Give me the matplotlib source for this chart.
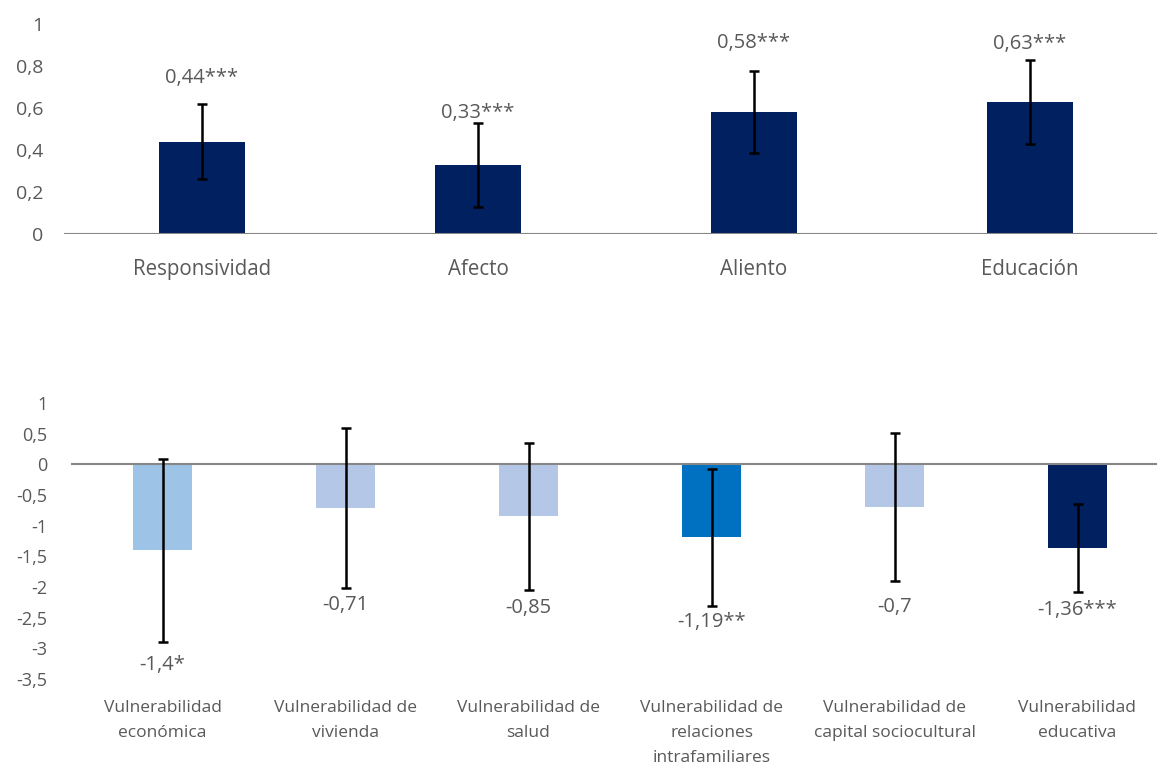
import numpy as np
import matplotlib
matplotlib.use("Agg")
from matplotlib import pyplot as plt

plt.rcParams["font.family"] = ["Open Sans", "DejaVu Sans"]

# datos - grafico superior
top_cats = ["Responsividad", "Afecto", "Aliento", "Educación"]
top_vals = [0.44, 0.33, 0.58, 0.63]
top_err = [0.18, 0.20, 0.195, 0.20]
top_labels = ["0,44***", "0,33***", "0,58***", "0,63***"]
top_label_y = [0.745, 0.575, 0.91, 0.905]

# datos - grafico inferior
bot_cats = ["Vulnerabilidad\neconómica", "Vulnerabilidad de\nvivienda",
            "Vulnerabilidad de\nsalud", "Vulnerabilidad de\nrelaciones\nintrafamiliares",
            "Vulnerabilidad de\ncapital sociocultural", "Vulnerabilidad\neducativa"]
bot_vals = [-1.40, -0.71, -0.85, -1.19, -0.70, -1.36]
bot_err = [1.49, 1.30, 1.20, 1.12, 1.21, 0.72]
bot_labels = ["-1,4*", "-0,71", "-0,85", "-1,19**", "-0,7", "-1,36***"]
bot_label_y = [-3.27, -2.30, -2.35, -2.57, -2.33, -2.38]
bot_colors = ["#9DC3E6", "#B4C7E7", "#B4C7E7", "#0070C0", "#B4C7E7", "#002060"]

txt = "#595959"
W, H = 1157, 767
fig = plt.figure(figsize=(W / 100, H / 100), dpi=100)

# grafico superior
ax1 = fig.add_axes([64 / W, 1 - 234 / H, 1104 / W, 210 / H])
x1 = np.arange(len(top_cats))
ax1.bar(x1, top_vals, width=0.315, color="#002060")
ax1.errorbar(x1, top_vals, yerr=top_err, fmt="none", ecolor="black",
             elinewidth=1.8, capsize=3.5, capthick=1.8)
for xi, lab, ly in zip(x1, top_labels, top_label_y):
    ax1.text(xi, ly, lab, ha="center", va="center", fontsize=14.5, color=txt)
ax1.set_xlim(-0.5, 3.5)
ax1.set_ylim(0, 1)
ax1.set_yticks([0, 0.2, 0.4, 0.6, 0.8, 1])
ax1.set_yticklabels(["0", "0,2", "0,4", "0,6", "0,8", "1"])
ax1.set_xticks(x1)
ax1.set_xticklabels(top_cats)
ax1.axhline(0, color="#868686", lw=1.5, zorder=1)

# grafico inferior
ax2 = fig.add_axes([71 / W, 1 - 679 / H, 1098 / W, 276 / H])
x2 = np.arange(len(bot_cats))
ax2.bar(x2, bot_vals, width=0.317, color=bot_colors)
ax2.axhline(0, color="#868686", lw=1.5, zorder=1.5)
ax2.errorbar(x2, bot_vals, yerr=bot_err, fmt="none", ecolor="black",
             elinewidth=1.8, capsize=3.5, capthick=1.8, zorder=3)
for xi, lab, ly in zip(x2, bot_labels, bot_label_y):
    ax2.text(xi, ly, lab, ha="center", va="center", fontsize=14.5, color=txt)
ax2.set_xlim(-0.5, 5.5)
ax2.set_ylim(-3.5, 1)
yt = [1, 0.5, 0, -0.5, -1, -1.5, -2, -2.5, -3, -3.5]
ax2.set_yticks(yt)
ax2.set_yticklabels([("%g" % v).replace(".", ",") for v in yt])
ax2.set_xticks(x2)
ax2.set_xticklabels(bot_cats, linespacing=1.75)

for ax in (ax1, ax2):
    for s in ax.spines.values():
        s.set_visible(False)
    ax.tick_params(length=0, colors=txt)
ax1.tick_params(axis="y", pad=15, labelsize=14)
ax1.tick_params(axis="x", pad=18, labelsize=14.8)
ax2.tick_params(axis="y", pad=17, labelsize=13)
ax2.tick_params(axis="x", pad=15, labelsize=12.5)

fig.savefig("out.png", dpi=100)
